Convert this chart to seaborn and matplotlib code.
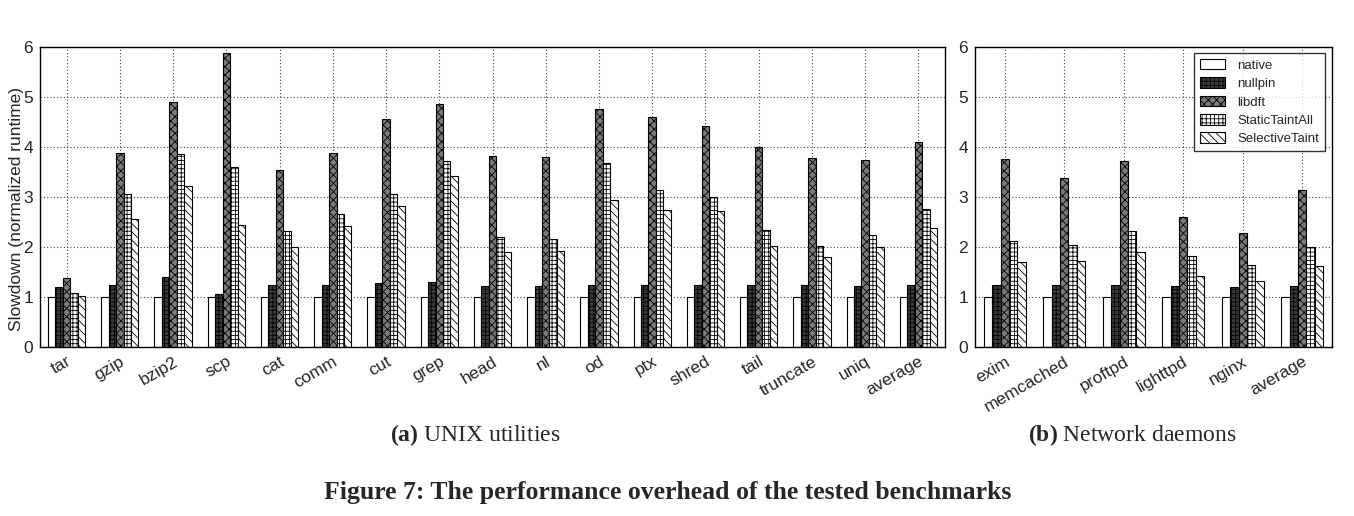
import numpy as np
import pandas as pd
import matplotlib
matplotlib.use("Agg")
import matplotlib.pyplot as plt
from matplotlib.patches import Patch
import seaborn as sns

systems = ["native", "nullpin", "libdft", "StaticTaintAll", "SelectiveTaint"]

unix_apps = ["tar", "gzip", "bzip2", "scp", "cat", "comm", "cut", "grep", "head",
             "nl", "od", "ptx", "shred", "tail", "truncate", "uniq", "average"]
unix_native = [1.0] * 17
unix_nullpin = [1.21, 1.25, 1.41, 1.06, 1.25, 1.25, 1.28, 1.31, 1.23,
                1.23, 1.25, 1.25, 1.24, 1.25, 1.25, 1.23, 1.25]
unix_libdft = [1.39, 3.87, 4.90, 5.87, 3.54, 3.87, 4.55, 4.85, 3.81,
               3.79, 4.75, 4.59, 4.41, 3.99, 3.77, 3.74, 4.10]
unix_static = [1.09, 3.07, 3.85, 3.59, 2.33, 2.65, 3.07, 3.72, 2.20,
               2.17, 3.67, 3.13, 3.01, 2.34, 2.02, 2.24, 2.75]
unix_selective = [1.02, 2.56, 3.21, 2.43, 2.01, 2.42, 2.82, 3.41, 1.91,
                  1.93, 2.93, 2.73, 2.71, 2.02, 1.81, 2.01, 2.37]

net_apps = ["exim", "memcached", "proftpd", "lighttpd", "nginx", "average"]
net_native = [1.0] * 6
net_nullpin = [1.24, 1.24, 1.24, 1.22, 1.21, 1.22]
net_libdft = [3.75, 3.37, 3.71, 2.60, 2.28, 3.14]
net_static = [2.12, 2.04, 2.32, 1.82, 1.64, 2.00]
net_selective = [1.70, 1.72, 1.90, 1.42, 1.32, 1.62]

y_ticks = [0, 1, 2, 3, 4, 5, 6]

def make_df(apps, series):
    rows = []
    for s, vals in zip(systems, series):
        for a, v in zip(apps, vals):
            rows.append({"app": a, "system": s, "value": v})
    return pd.DataFrame(rows)

df_unix = make_df(unix_apps, [unix_native, unix_nullpin, unix_libdft, unix_static, unix_selective])
df_net = make_df(net_apps, [net_native, net_nullpin, net_libdft, net_static, net_selective])

sns.set_style("white")
plt.rcParams["font.family"] = ["Liberation Sans", "DejaVu Sans"]
plt.rcParams["hatch.linewidth"] = 0.6
plt.rcParams["hatch.color"] = "black"
plt.rcParams["mathtext.fontset"] = "custom"
plt.rcParams["mathtext.bf"] = "Liberation Serif:bold"
plt.rcParams["mathtext.rm"] = "Liberation Serif"

face = {"native": "white", "nullpin": "#3a3a3a", "libdft": "#7a7a7a",
        "StaticTaintAll": "white", "SelectiveTaint": "white"}
hatch = {"native": "", "nullpin": "++++", "libdft": "xxxx",
         "StaticTaintAll": "++++", "SelectiveTaint": "\\\\\\\\"}

fig = plt.figure(figsize=(13.54, 5.16), dpi=100)
W, H = 1354, 516
ax1 = fig.add_axes([40 / W, 1 - 347 / H, (945 - 40) / W, 300 / H])
ax2 = fig.add_axes([975 / W, 1 - 347 / H, (1332 - 975) / W, 300 / H])

for ax, df, apps in [(ax1, df_unix, unix_apps), (ax2, df_net, net_apps)]:
    sns.barplot(data=df, x="app", y="value", hue="system", hue_order=systems,
                order=apps, palette=[face[s] for s in systems], width=0.7,
                edgecolor="black", linewidth=0.8, legend=False, ax=ax, saturation=1)
    for cont, s in zip(ax.containers, systems):
        for p in cont.patches:
            p.set_facecolor(face[s])
            p.set_hatch(hatch[s])
            p.set_edgecolor("black")
    ax.set_ylim(0, 6)
    ax.set_xlim(-0.5, len(apps) - 0.5)
    ax.set_yticks(y_ticks)
    ax.set_yticklabels([str(t) for t in y_ticks], fontsize=12.5)
    ax.set_xlabel("")
    ax.set_ylabel("")
    ax.grid(True, axis="both", linestyle=(0, (1, 2)), color="#444444", linewidth=0.8)
    ax.set_axisbelow(True)
    ax.set_xticks(range(len(apps)))
    ax.set_xticklabels(apps, rotation=30, ha="right", rotation_mode="anchor", fontsize=12.5)
    ax.tick_params(axis="both", direction="in", length=3, pad=5)
    for sp in ax.spines.values():
        sp.set_color("black")
        sp.set_linewidth(1.0)

ax1.set_ylabel("Slowdown (normalized runtime)", fontsize=12.5)
ax1.yaxis.set_label_coords(-0.018, 0.46)

handles = [Patch(facecolor=face[s], edgecolor="black", hatch=hatch[s], linewidth=0.8, label=s)
           for s in systems]
leg = ax2.legend(handles=handles, loc="upper right", fontsize=9.5, frameon=True,
                 fancybox=False, edgecolor="black", handlelength=1.9, handleheight=0.85,
                 borderpad=0.45, labelspacing=0.42, handletextpad=0.9, borderaxespad=0,
                 bbox_to_anchor=(1 - 7 / 357, 1 - 6 / 300))
leg.get_frame().set_linewidth(1.0)

fig.text(475 / W, 1 - 435 / H, r"$\mathbf{(a)}$ UNIX utilities", fontsize=17,
         ha="center", va="center", family=["Liberation Serif", "DejaVu Serif"])
fig.text(1132 / W, 1 - 435 / H, r"$\mathbf{(b)}$ Network daemons", fontsize=17,
         ha="center", va="center", family=["Liberation Serif", "DejaVu Serif"])
fig.text(668 / W, 1 - 493 / H, "Figure 7: The performance overhead of the tested benchmarks",
         fontsize=18.5, ha="center", va="center", family=["Liberation Serif", "DejaVu Serif"],
         fontweight="bold")

fig.savefig("out.png", dpi=100)
